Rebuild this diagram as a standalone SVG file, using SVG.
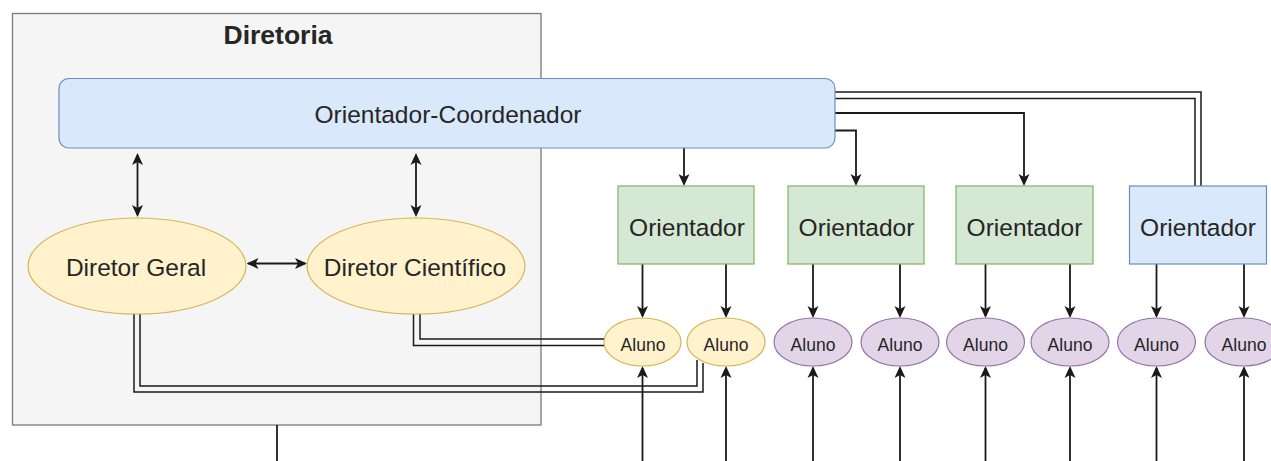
<svg xmlns="http://www.w3.org/2000/svg" width="1271" height="461" viewBox="0 0 1271 461">
<defs>
<style>
text{font-family:"Liberation Sans",Arial,Helvetica,sans-serif;fill:#262626;text-anchor:middle}
.t{font-size:24.5px}
.al{font-size:17.5px}
.title{font-size:26.5px;font-weight:bold}
.c{fill:none;stroke:#1a1a1a;stroke-width:1.8}
.lk{fill:none;stroke:#1a1a1a;stroke-width:1.5}
.a{marker-end:url(#arr)}
.aa{marker-start:url(#arr);marker-end:url(#arr)}
.yel{fill:#fff2cc;stroke:#d6b656;stroke-width:1.2}
.pur{fill:#e1d5e7;stroke:#9673a6;stroke-width:1.2}
.grn{fill:#d5e8d4;stroke:#82b366;stroke-width:1.2}
.blu{fill:#dae8fc;stroke:#6c8ebf;stroke-width:1.2}
</style>
<marker id="arr" viewBox="0 0 12 12" markerWidth="12" markerHeight="12" refX="10" refY="6" orient="auto-start-reverse" markerUnits="userSpaceOnUse">
<path d="M0,0.5 L12,6 L0,11.5 L3,6 Z" fill="#1a1a1a"/>
</marker>
</defs>
<rect width="1271" height="461" fill="#ffffff"/>
<g id="diretoria">
<rect x="12.5" y="13.5" width="528.5" height="411.5" fill="#f5f5f5" stroke="#7a7a7a" stroke-width="1.3"/>
<text class="title" x="278" y="44">Diretoria</text>
</g>
<g id="connectors">
<path class="c aa" d="M137.5 155 V215"/>
<path class="c aa" d="M416 155 V215"/>
<path class="c aa" d="M248.5 263.5 H305"/>
<path class="c a" d="M684 148 V184"/>
<path class="c a" d="M835 130.5 H856 V184"/>
<path class="c a" d="M835 113 H1024 V184"/>
<path class="lk" d="M835 92 H1201 V186"/>
<path class="lk" d="M835 98.5 H1195 V186"/>
<path class="lk" d="M413.5 314 V345.5 H604.5"/>
<path class="lk" d="M420 313.5 V339 H604"/>
<path class="lk" d="M134 313.5 V392 H703 V363"/>
<path class="lk" d="M140 313.5 V386 H697 V360"/>
<path class="c" d="M277 425 V461"/>
<path class="c a" d="M642.5 264 V316"/>
<path class="c a" d="M726 264 V316"/>
<path class="c a" d="M813 264 V316"/>
<path class="c a" d="M900 264 V316"/>
<path class="c a" d="M985.5 264 V316"/>
<path class="c a" d="M1070 264 V316"/>
<path class="c a" d="M1156.5 264 V316"/>
<path class="c a" d="M1244 264 V316"/>
<path class="c a" d="M642.5 461 V368"/>
<path class="c a" d="M726 461 V368"/>
<path class="c a" d="M813 461 V368"/>
<path class="c a" d="M900 461 V368"/>
<path class="c a" d="M985.5 461 V368"/>
<path class="c a" d="M1070 461 V368"/>
<path class="c a" d="M1156.5 461 V368"/>
<path class="c a" d="M1244 461 V368"/>
</g>
<g id="coordenador">
<rect class="blu" x="59" y="78.5" width="776" height="69.5" rx="10" ry="10"/>
<text class="t" x="448" y="123">Orientador-Coordenador</text>
</g>
<g id="diretor-geral">
<ellipse class="yel" cx="137" cy="266" rx="109" ry="48"/>
<text class="t" x="136" y="276">Diretor Geral</text>
</g>
<g id="diretor-cientifico">
<ellipse class="yel" cx="416" cy="266" rx="109" ry="48"/>
<text class="t" x="415" y="276">Diretor Científico</text>
</g>
<g id="orientador-1">
<rect class="grn" x="618" y="186" width="136" height="78"/>
<text class="t" x="687" y="236">Orientador</text>
</g>
<g id="orientador-2">
<rect class="grn" x="788" y="186" width="136" height="78"/>
<text class="t" x="856.5" y="236">Orientador</text>
</g>
<g id="orientador-3">
<rect class="grn" x="956" y="186" width="137" height="78"/>
<text class="t" x="1024.5" y="236">Orientador</text>
</g>
<g id="orientador-4">
<rect class="blu" x="1129.5" y="186" width="137" height="78"/>
<text class="t" x="1198" y="236">Orientador</text>
</g>
<g id="aluno-1">
<ellipse class="yel" cx="642.5" cy="342" rx="38.5" ry="24"/>
<text class="al" x="643" y="350.5">Aluno</text>
</g>
<g id="aluno-2">
<ellipse class="yel" cx="726" cy="342" rx="39" ry="24"/>
<text class="al" x="726" y="350.5">Aluno</text>
</g>
<g id="aluno-3">
<ellipse class="pur" cx="813" cy="342" rx="39" ry="24"/>
<text class="al" x="813" y="350.5">Aluno</text>
</g>
<g id="aluno-4">
<ellipse class="pur" cx="900" cy="342" rx="39" ry="24"/>
<text class="al" x="900" y="350.5">Aluno</text>
</g>
<g id="aluno-5">
<ellipse class="pur" cx="985.5" cy="342" rx="39" ry="24"/>
<text class="al" x="985.5" y="350.5">Aluno</text>
</g>
<g id="aluno-6">
<ellipse class="pur" cx="1070" cy="342" rx="39" ry="24"/>
<text class="al" x="1070" y="350.5">Aluno</text>
</g>
<g id="aluno-7">
<ellipse class="pur" cx="1156.5" cy="342" rx="39" ry="24"/>
<text class="al" x="1156.5" y="350.5">Aluno</text>
</g>
<g id="aluno-8">
<ellipse class="pur" cx="1244" cy="342" rx="39" ry="24"/>
<text class="al" x="1244" y="350.5">Aluno</text>
</g>
</svg>
